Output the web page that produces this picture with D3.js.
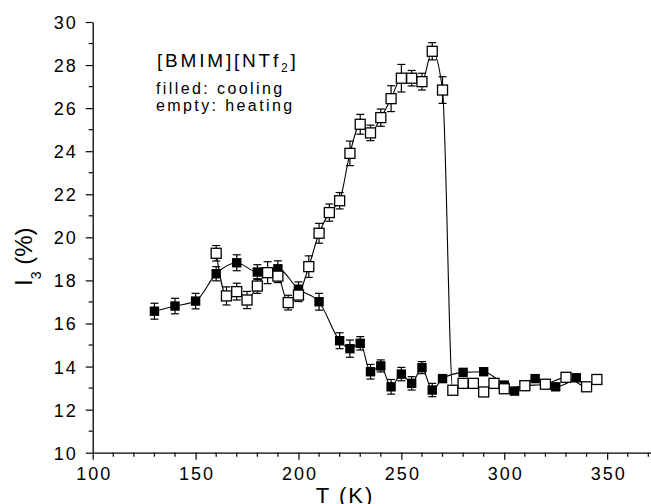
<!DOCTYPE html>
<html>
<head>
<meta charset="utf-8">
<script src="https://cdn.jsdelivr.net/npm/d3@7"></script>
<style>
  html, body { margin: 0; padding: 0; background: #fff; }
  svg { display: block; }
  text { font-family: "Liberation Sans", Arial, sans-serif; fill: #000; }
</style>
</head>
<body>
<svg id="chart" width="651" height="504"></svg>
<script>
// Cooling run (filled squares): temperature (K), I3 (%), error
const coolT   = [130, 140, 150, 160, 170, 180, 190, 200, 210, 220, 225, 230, 235, 240, 245, 250, 255, 260, 265, 270, 280, 290, 300, 305, 315, 325, 335];
const coolI3  = [16.57, 16.81, 17.04, 18.31, 18.82, 18.39, 18.54, 17.59, 17.01, 15.20, 14.83, 15.08, 13.76, 14.03, 13.06, 13.65, 13.22, 13.95, 12.91, 13.44, 13.73, 13.76, 13.14, 12.86, 13.44, 13.06, 13.48];
const coolErr = [0.37, 0.36, 0.36, 0.33, 0.37, 0.34, 0.37, 0.34, 0.39, 0.37, 0.40, 0.31, 0.34, 0.28, 0.34, 0.31, 0.31, 0.28, 0.31, 0.15, 0.10, 0.10, 0.10, 0.10, 0.10, 0.10, 0.10];

// Heating run (empty squares)
const heatT   = [160, 165, 170, 175, 180, 185, 190, 195, 200, 205, 210, 215, 220, 225, 230, 235, 240, 245, 250, 255, 260, 265, 270, 275, 280, 285, 290, 295, 300, 310, 320, 330, 340, 345];
const heatI3  = [19.26, 17.28, 17.48, 17.09, 17.74, 18.36, 18.20, 16.97, 17.32, 18.64, 20.19, 21.15, 21.70, 23.90, 25.25, 24.85, 25.56, 26.44, 27.39, 27.39, 27.23, 28.64, 26.84, 12.90, 13.22, 13.22, 12.82, 13.22, 12.97, 13.11, 13.18, 13.50, 13.06, 13.40];
const heatErr = [0.36, 0.42, 0.39, 0.40, 0.34, 0.51, 0.30, 0.34, 0.30, 0.50, 0.46, 0.40, 0.38, 0.57, 0.46, 0.36, 0.40, 0.60, 0.64, 0.36, 0.39, 0.40, 0.62, 0.10, 0.10, 0.10, 0.10, 0.10, 0.10, 0.10, 0.10, 0.10, 0.10, 0.10];

// Axis ticks
const xMajorTicks = [100, 150, 200, 250, 300, 350];
const xMinorTicks = d3.range(110, 371, 10).filter(v => v % 50 !== 0);
const yMajorTicks = [10, 12, 14, 16, 18, 20, 22, 24, 26, 28, 30];
const yMinorTicks = [11, 13, 15, 17, 19, 21, 23, 25, 27, 29];

const svg = d3.select("#chart");

const x = d3.scaleLinear().domain([100, 371.5]).range([92.7, 651.4]);
const y = d3.scaleLinear().domain([10, 30]).range([452.7, 22]);

const axisColor = "#000";

// ---- X axis
const gx = svg.append("g").attr("transform", `translate(0,${y(10)})`);
gx.call(d3.axisBottom(x).tickValues(xMajorTicks).tickSize(7).tickSizeOuter(0).tickFormat(d3.format("d")));
gx.selectAll(".tick text")
  .attr("y", 27.3).attr("dy", null)
  .style("font-size", "18px").style("letter-spacing", "2px")
  .attr("dx", 1);
gx.call(g => g.select(".domain").attr("stroke-width", 1.3));
gx.selectAll(".tick line").attr("stroke-width", 1.2);
gx.selectAll(".minor").data(xMinorTicks).enter().append("line")
  .attr("class", "minor")
  .attr("x1", d => x(d)).attr("x2", d => x(d))
  .attr("y1", 0).attr("y2", 4)
  .attr("stroke", axisColor).attr("stroke-width", 1.2);

// ---- Y axis
const gy = svg.append("g").attr("transform", `translate(${x(100)},0)`);
gy.call(d3.axisLeft(y).tickValues(yMajorTicks).tickSize(7).tickSizeOuter(0).tickFormat(d3.format("d")));
gy.selectAll(".tick text")
  .attr("x", -15).attr("dy", "0.36em")
  .style("font-size", "18px").style("letter-spacing", "2px");
gy.call(g => g.select(".domain").attr("stroke-width", 1.3));
gy.selectAll(".tick line").attr("stroke-width", 1.2);
gy.selectAll(".minor").data(yMinorTicks).enter().append("line")
  .attr("class", "minor")
  .attr("x1", 0).attr("x2", -4)
  .attr("y1", d => y(d)).attr("y2", d => y(d))
  .attr("stroke", axisColor).attr("stroke-width", 1.2);

// ---- Axis titles
svg.append("text")
  .attr("x", 345).attr("y", 503)
  .attr("text-anchor", "middle")
  .style("font-size", "22px").style("letter-spacing", "2px")
  .text("T (K)");

const yTitle = svg.append("text")
  .attr("transform", "translate(31.7,286) rotate(-90)")
  .style("font-size", "24px");
yTitle.append("tspan").text("I");
yTitle.append("tspan").attr("dy", 9).style("font-size", "14px").text("3");
yTitle.append("tspan").attr("dy", -9).text(" (%)");

// ---- Annotation
const title = svg.append("text").attr("x", 157).attr("y", 66.5)
  .style("font-size", "19px").style("letter-spacing", "2.8px");
title.append("tspan").text("[BMIM][NTf");
title.append("tspan").attr("dy", 5).style("font-size", "12px").text("2");
title.append("tspan").attr("dy", -5).text("]");

svg.append("text").attr("x", 156).attr("y", 94)
  .style("font-size", "16px").style("letter-spacing", "2.4px")
  .text("filled: cooling");
svg.append("text").attr("x", 156).attr("y", 111)
  .style("font-size", "16px").style("letter-spacing", "2.4px")
  .text("empty: heating");

// ---- Series drawing
function drawSeries(ts, vs, es, filled) {
  const pts = ts.map((t, i) => ({ t, v: vs[i], e: es[i] }));
  const g = svg.append("g");

  const line = d3.line().x(d => x(d.t)).y(d => y(d.v)).curve(d3.curveMonotoneX);
  g.append("path").datum(pts)
    .attr("d", line)
    .attr("fill", "none").attr("stroke", "#000").attr("stroke-width", 1.1);

  const cap = 4;
  const eb = g.selectAll(".err").data(pts).enter().append("g").attr("class", "err")
    .attr("stroke", "#000").attr("stroke-width", 1.2);
  eb.append("line")
    .attr("x1", d => x(d.t)).attr("x2", d => x(d.t))
    .attr("y1", d => y(d.v + d.e)).attr("y2", d => y(d.v - d.e));
  eb.append("line")
    .attr("x1", d => x(d.t) - cap).attr("x2", d => x(d.t) + cap)
    .attr("y1", d => y(d.v + d.e)).attr("y2", d => y(d.v + d.e));
  eb.append("line")
    .attr("x1", d => x(d.t) - cap).attr("x2", d => x(d.t) + cap)
    .attr("y1", d => y(d.v - d.e)).attr("y2", d => y(d.v - d.e));

  const s = filled ? 9.4 : 10;
  g.selectAll(".sym").data(pts).enter().append("rect").attr("class", "sym")
    .attr("x", d => x(d.t) - s / 2).attr("y", d => y(d.v) - s / 2)
    .attr("width", s).attr("height", s)
    .attr("fill", filled ? "#000" : "#fff")
    .attr("stroke", "#000")
    .attr("stroke-width", filled ? 0 : 1.3);
}

drawSeries(coolT, coolI3, coolErr, true);
drawSeries(heatT, heatI3, heatErr, false);
</script>
</body>
</html>
